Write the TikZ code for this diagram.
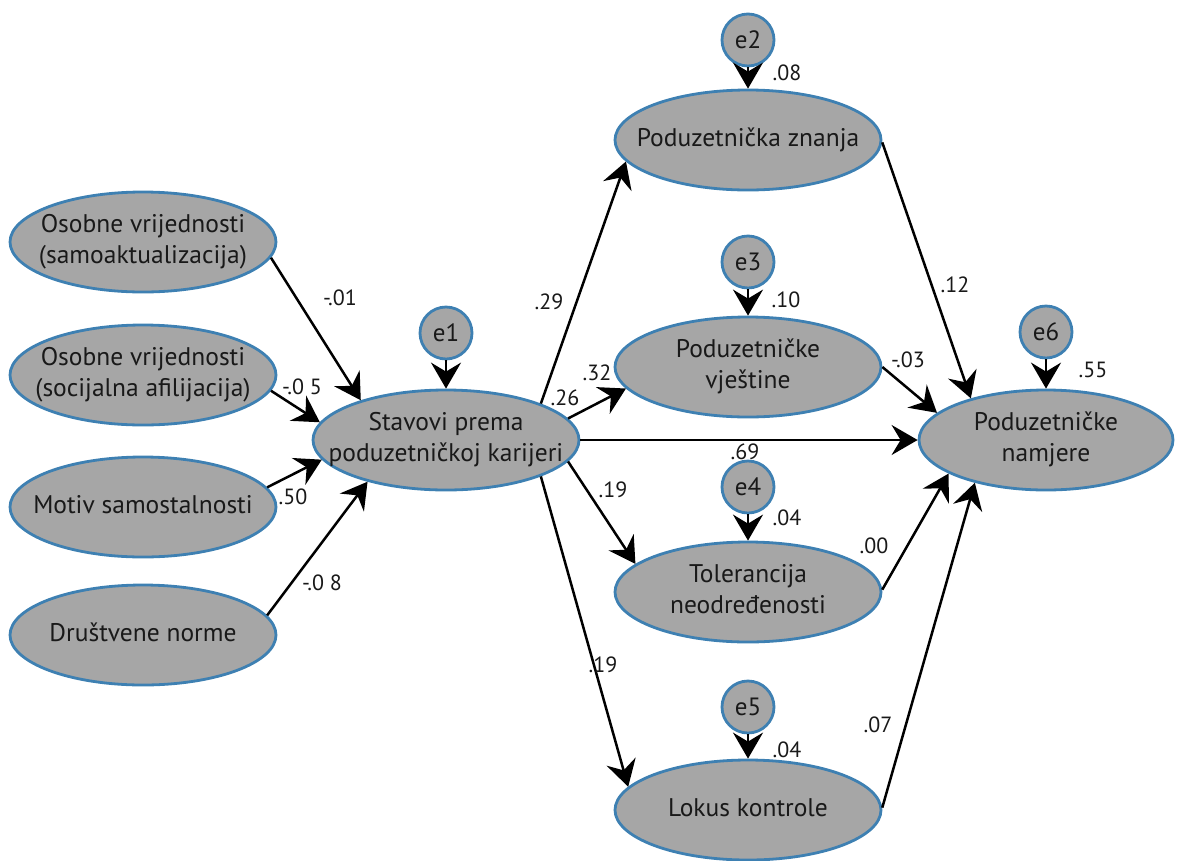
\documentclass[tikz,border=0pt]{standalone}
\usepackage{fontspec}
\setmainfont{PT Sans}
\usetikzlibrary{arrows.meta,shapes.geometric}
\definecolor{ellfill}{RGB}{166,166,166}
\definecolor{ellborder}{RGB}{62,128,178}
\newcommand{\elltext}[1]{\makebox[0pt]{\begin{tabular}{@{}c@{}}#1\end{tabular}}}
\begin{document}
\begin{tikzpicture}[x=1pt,y=-1pt,
  var/.style={ellipse, draw=ellborder, fill=ellfill, line width=2.8pt,
    minimum width=266pt, minimum height=100pt, inner sep=0pt,
    font=\fontsize{25.5}{31}\selectfont, text=black!90},
  err/.style={circle, draw=ellborder, fill=ellfill, line width=2.8pt,
    minimum size=52pt, inner sep=0pt, font=\fontsize{25}{28}\selectfont, text=black!90},
  arr/.style={line width=2.5pt, -{Stealth[length=26pt,width=30pt,inset=9pt]}},
  coef/.style={font=\fontsize{22}{24}\selectfont, inner sep=0pt, text=black!90}]
\useasboundingbox[fill=white] (0,0) rectangle (1177,860);

% left predictors
\node[var] (o1) at (143,242) {\elltext{Osobne vrijednosti\\(samoaktualizacija)}};
\node[var] (o2) at (143,375) {\elltext{Osobne vrijednosti\\(socijalna afilijacija)}};
\node[var] (mo) at (143,507) {\elltext{Motiv samostalnosti}};
\node[var] (dn) at (143,635) {\elltext{Društvene norme}};
% central
\node[var] (st) at (446,440) {\elltext{Stavovi prema\\poduzetničkoj karijeri}};
\node[err] (e1) at (446,333) {e1};
% mediators
\node[var] (zn) at (748,140) {\elltext{Poduzetnička znanja}};
\node[var] (vj) at (748,367) {\elltext{Poduzetničke\\vještine}};
\node[var] (to) at (748,592) {\elltext{Tolerancija\\neodređenosti}};
\node[var] (lk) at (748,810) {\elltext{Lokus kontrole}};
\node[err] (e2) at (748,40) {e2};
\node[err] (e3) at (748,262) {e3};
\node[err] (e4) at (748,487) {e4};
\node[err] (e5) at (748,707) {e5};
% outcome
\node[var, minimum width=254pt] (nm) at (1046,440) {\elltext{Poduzetničke\\namjere}};
\node[err] (e6) at (1046,332) {e6};

% error arrows
\draw[arr] (e1) -- (st);
\draw[arr] (e2) -- (zn);
\draw[arr] (e3) -- (vj);
\draw[arr] (e4) -- (to);
\draw[arr] (e5) -- (lk);
\draw[arr] (e6) -- (nm);

% predictors -> attitudes
\draw[arr] (o1.-7) -- (st.155);
\draw[arr] (o2.-7) -- (st.172);
\draw[arr] (mo.9) -- (st.-171);
\draw[arr] (dn.9) -- (st.-152);

% attitudes -> mediators / outcome
\draw[arr] (st.21) -- (zn.190);
\draw[arr] (st.10) -- (vj.190);
\draw[arr] (st.east) -- (nm.west);
\draw[arr] (st.-10) -- (to.166);
\draw[arr] (st.-21) -- (lk.169);

% mediators -> outcome
\draw[arr] (zn.-1) -- (nm.151);
\draw[arr] (vj.0) -- (nm.166);
\draw[arr] (to.1) -- (nm.199);
\draw[arr] (lk.1) -- (nm.211);

% coefficients
\node[coef] (c1) at (340,298) {-.01};
\node[coef] (c2) at (302,387) {-.0 5};
\node[coef] (c3) at (293,497) {.50};
\node[coef] (c4) at (322,583) {-.0 8};
\node[coef] (c5) at (549,302) {.29};
\node[coef] (c6) at (597,373) {.32};
\node[coef] (c7) at (565,398) {.26};
\node[coef] (c8) at (613,490) {.19};
\node[coef] (c9) at (745,452) {.69};
\node[coef] (c10) at (603,665) {.19};
\node[coef] (c11) at (955,285) {.12};
\node[coef] (c12) at (908,360) {-.03};
\node[coef] (c13) at (874,546) {.00};
\node[coef] (c14) at (878,725) {.07};
\node[coef] (r2) at (787,73) {.08};
\node[coef] (r3) at (786,300) {.10};
\node[coef] (r4) at (787,518) {.04};
\node[coef] (r5) at (787,750) {.04};
\node[coef] (r6) at (1093,370) {.55};
\end{tikzpicture}
\end{document}
